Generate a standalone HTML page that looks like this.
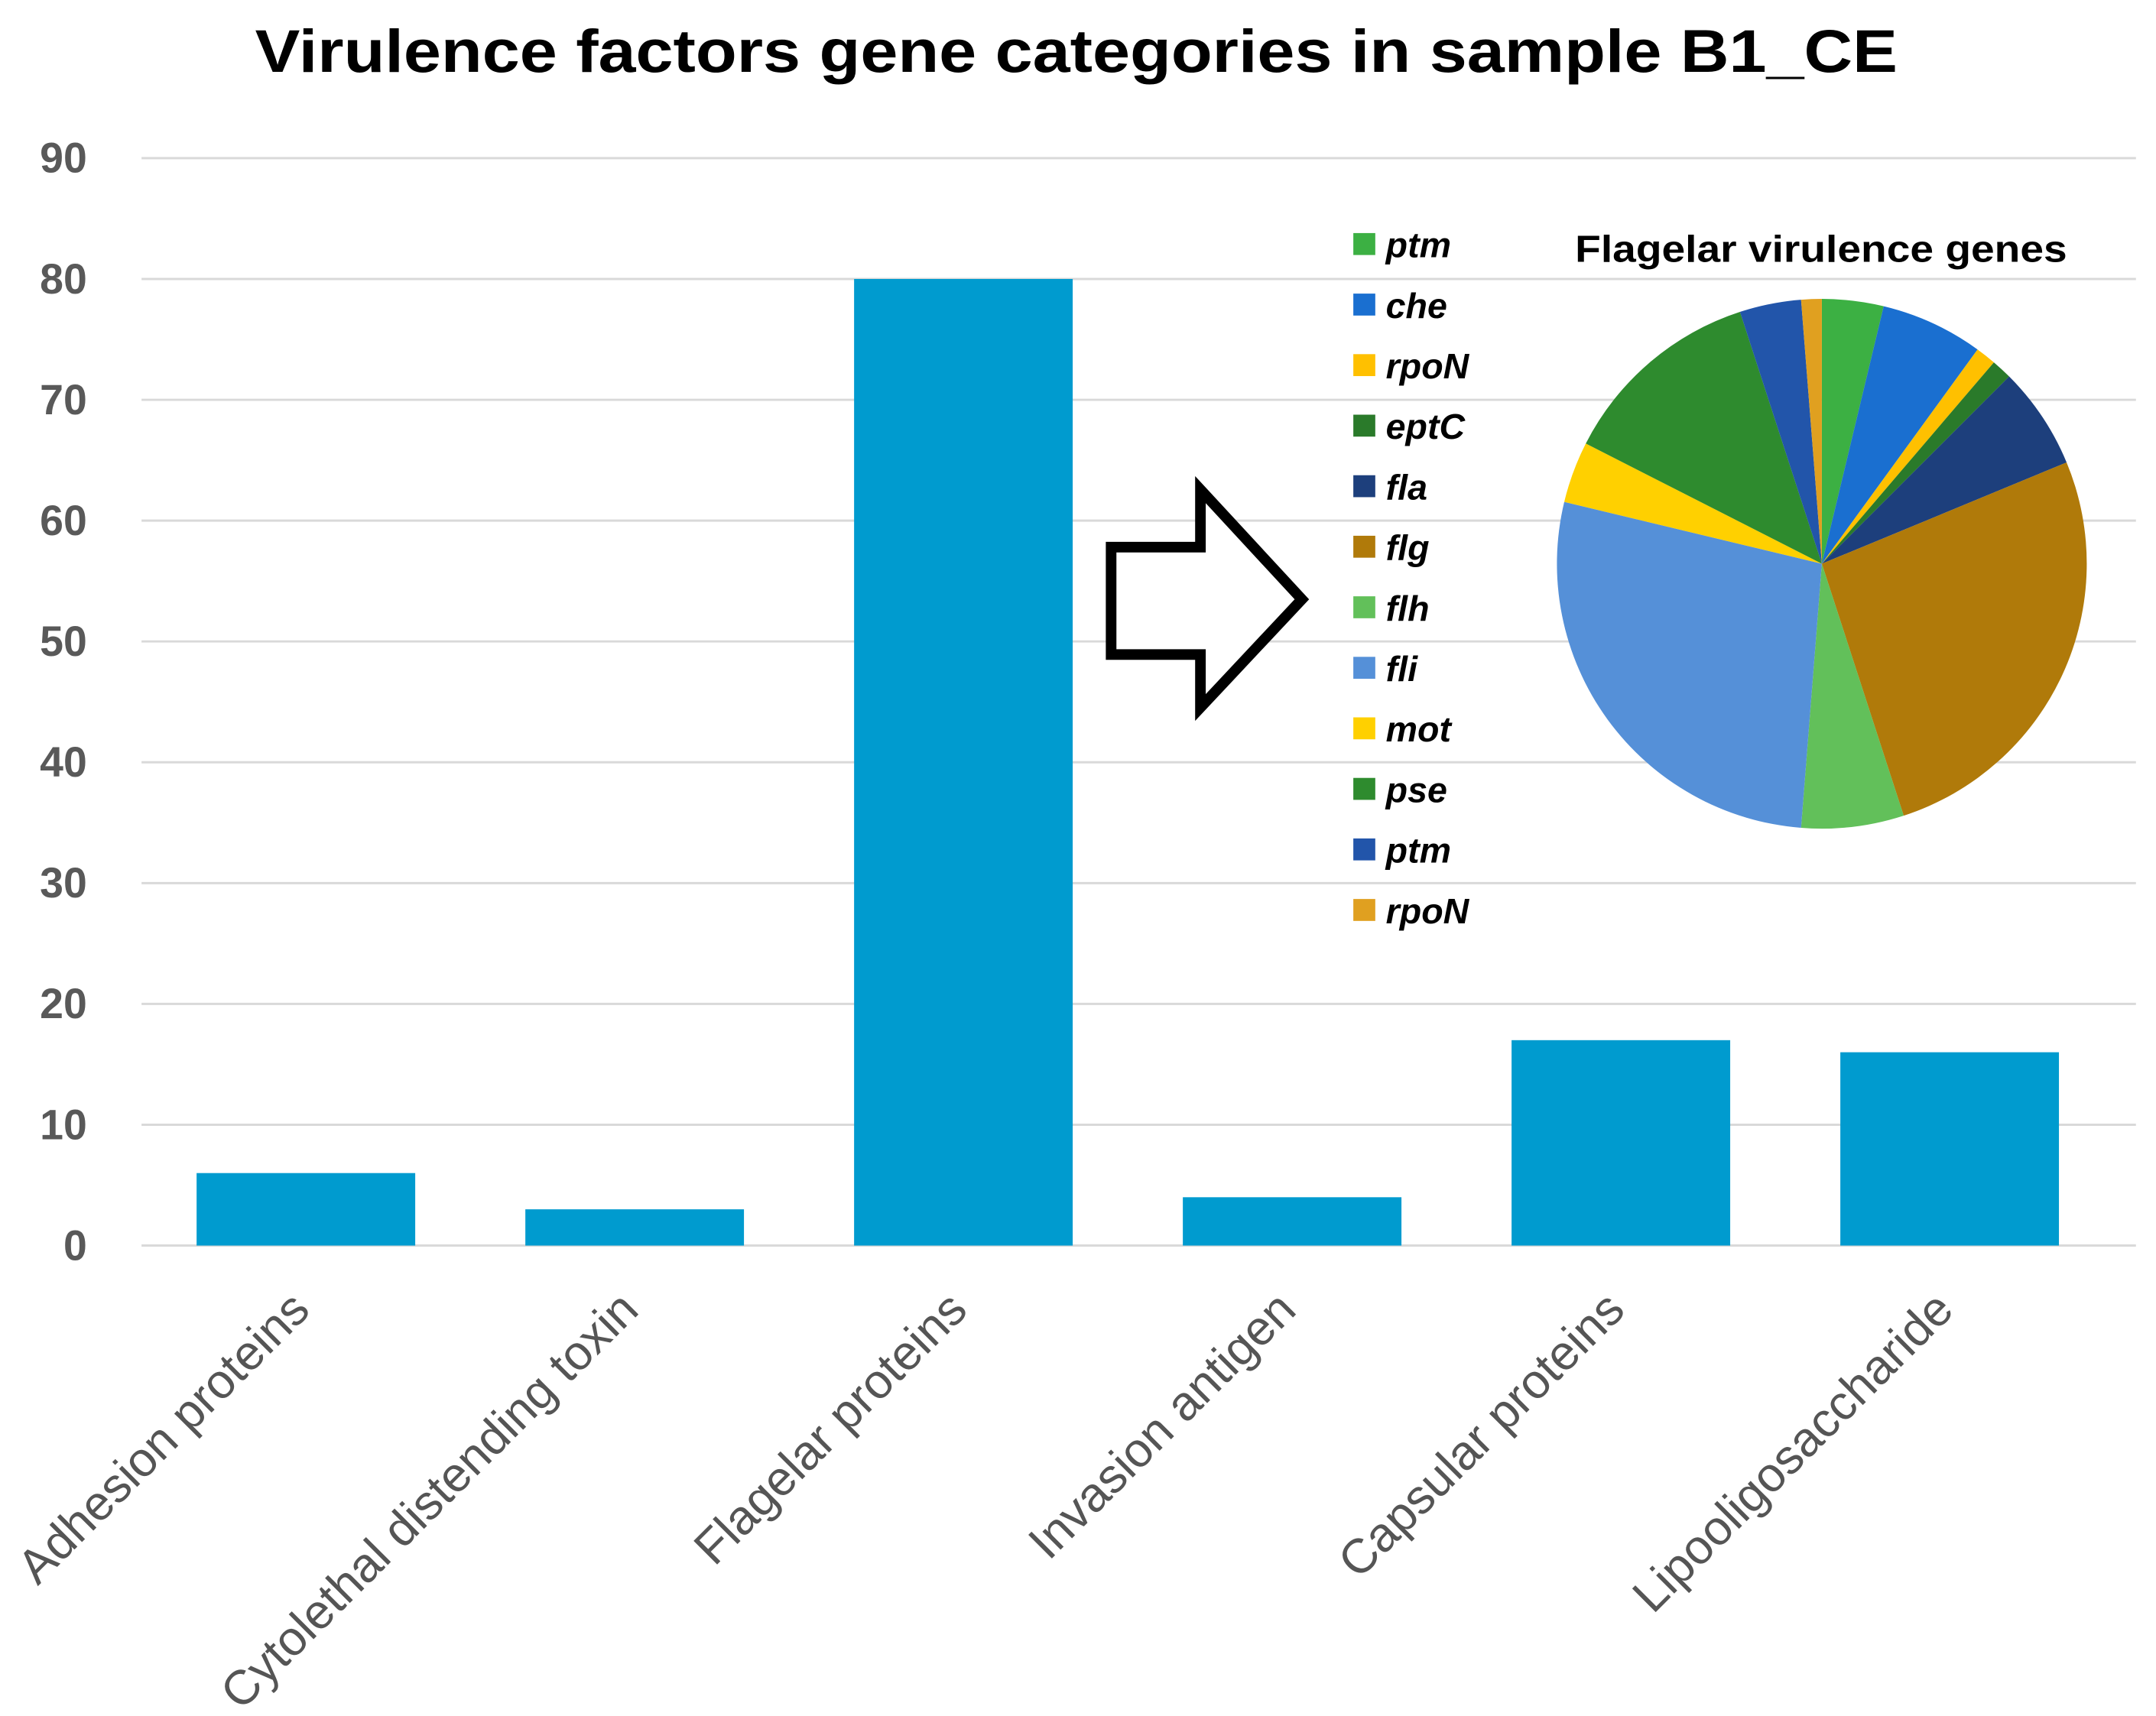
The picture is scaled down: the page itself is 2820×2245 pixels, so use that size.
<!DOCTYPE html>
<html><head><meta charset="utf-8"><style>
html,body{margin:0;padding:0;background:#fff;}
svg{display:block;}
</style></head><body>
<svg id="chart" width="2820" height="2245" viewBox="0 0 2820 2245" xmlns="http://www.w3.org/2000/svg" font-family="Liberation Sans, sans-serif">
<rect width="2820" height="2245" fill="#fff"/>
<g transform="scale(0.99)">
<text x="1422" y="95" text-anchor="middle" font-size="80" font-weight="bold" fill="#000" textLength="2170" lengthAdjust="spacingAndGlyphs">Virulence factors gene categories in sample B1_CE</text>
<g id="grid"></g><g id="bars"></g><g id="xlabels"></g>
<polygon points="1468,723 1586,723 1586,647 1720,792 1586,935 1586,865 1468,865" fill="#fff" stroke="#000" stroke-width="14"/>
<g id="legend"></g>
<text x="2406" y="346" text-anchor="middle" font-size="50" font-weight="bold" fill="#000" textLength="650" lengthAdjust="spacingAndGlyphs">Flagelar virulence genes</text>
<g id="pie"></g>
</g>
</svg>
<script>
const categories = ["Adhesion proteins","Cytolethal distending toxin","Flagelar proteins","Invasion antigen","Capsular proteins","Lipooligosaccharide"];
const values = [6,3,80,4,17,16];
const yTicks = [0,10,20,30,40,50,60,70,80,90];
const pieLabels = ["ptm","che","rpoN","eptC","fla","flg","flh","fli","mot","pse","ptm","rpoN"];
const pieValues = [3,5,1,1,5,21,5,22,3,10,3,1];
const pieColors = ["#3cb043","#1a6fd0","#ffc000","#2a7a2a","#1d3f7c","#b07a0a","#62c05a","#5590d8","#ffd000","#2e8b2e","#2255aa","#e0a020"];

const NS="http://www.w3.org/2000/svg";
const X0=187,X1=2793,Y0=1646,Y90=209;
const yS=v=>Y0-(v/90)*(Y0-Y90);
const cw=(X1-X0)/categories.length;
const xC=i=>X0+cw*(i+0.5);
function mk(tag,attrs,parent){const e=document.createElementNS(NS,tag);for(const k in attrs)e.setAttribute(k,attrs[k]);parent.appendChild(e);return e;}
const grid=document.getElementById('grid');
yTicks.forEach(t=>{
  const l=mk('line',{x1:X0,x2:2822,y1:yS(t),y2:yS(t),stroke:'#d9d9d9','stroke-width':3},grid);
  
  
  const tx=mk('text',{x:115,y:yS(t)+19,'text-anchor':'end','font-size':56,'font-weight':'bold',fill:'#595959'},grid);
  tx.textContent=t;
  
  
});
const bars=document.getElementById('bars'),xl=document.getElementById('xlabels');
const bw=cw*0.665;
categories.forEach((c,i)=>{
  const r=mk('rect',{x:xC(i)-bw/2,y:yS(values[i]),width:bw,height:Y0-yS(values[i]),fill:'#009bcf'},bars);
  
  
  const ax=xC(i)+8,ay=1734;
  const t=mk('text',{x:ax,y:ay,'text-anchor':'end','font-size':64,fill:'#555',transform:`rotate(-45 ${ax} ${ay})`},xl);
  t.textContent=c;
  
  
});
const lg=document.getElementById('legend');
pieLabels.forEach((n,i)=>{
  const y=323+i*80;
  const s=mk('rect',{x:1788,y:y-15,width:29,height:29,fill:pieColors[i]},lg);
  
  
  const t=mk('text',{x:1831,y:y+17,'font-size':47,'font-weight':'bold','font-style':'italic',fill:'#000'},lg);
  t.textContent=n;
  
  
});
const pie=document.getElementById('pie');
const cx=2407,cy=745,R=350;
const tot=pieValues.reduce((a,b)=>a+b,0);
let a0=0;
pieValues.forEach((v,i)=>{
  const a1=a0+v/tot*2*Math.PI;
  const p=(a)=>[cx+R*Math.sin(a),cy-R*Math.cos(a)];
  const [x0,y0]=p(a0),[x1,y1]=p(a1);
  const large=(a1-a0)>Math.PI?1:0;
  const path=mk('path',{d:`M${cx},${cy} L${x0},${y0} A${R},${R} 0 ${large} 1 ${x1},${y1} Z`,fill:pieColors[i]},pie);
  
  
  a0=a1;
});
</script>
</body></html>
